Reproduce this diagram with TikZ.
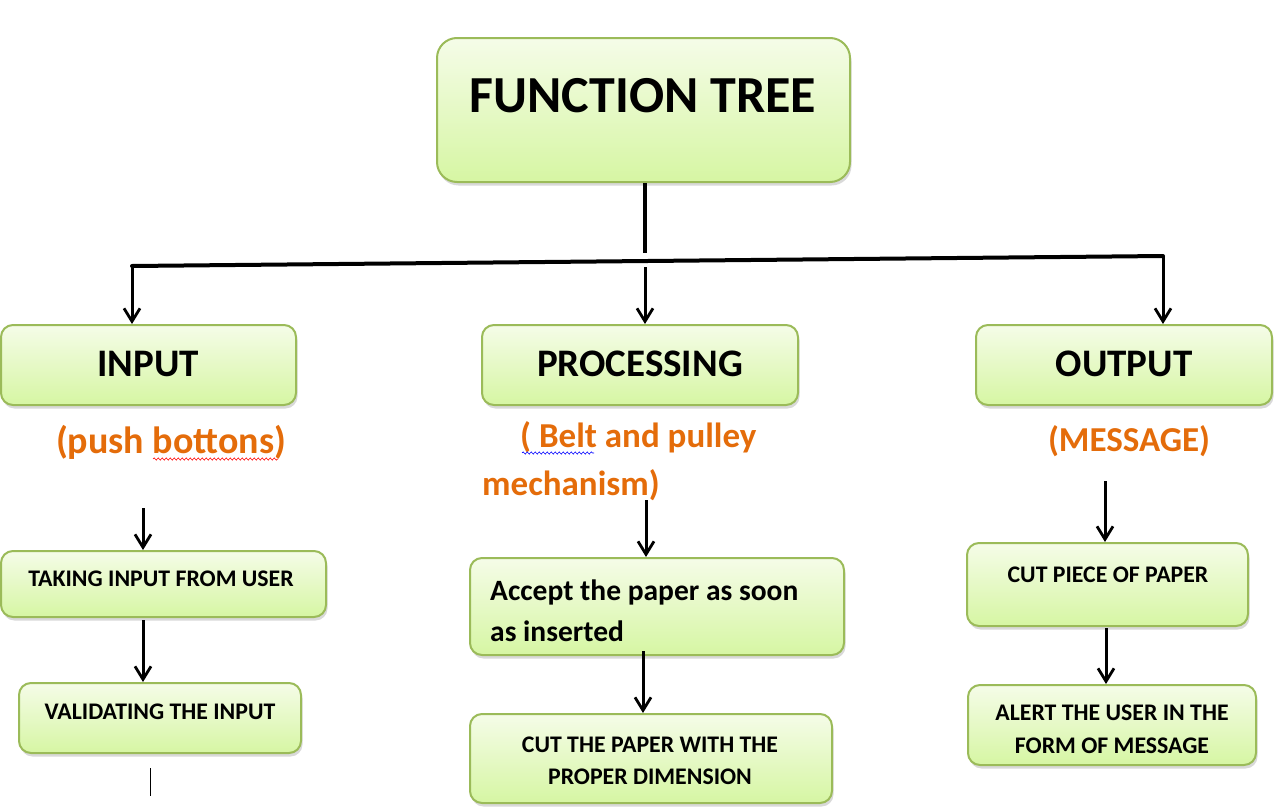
\documentclass[tikz,border=0pt]{standalone}
\usepackage{fontspec}
\setmainfont{Carlito}
\usetikzlibrary{arrows.meta,shadows,decorations.pathmorphing}
\definecolor{bord}{RGB}{155,187,89}
\definecolor{gtop}{RGB}{245,252,232}
\definecolor{gbot}{RGB}{214,246,163}
\definecolor{orng}{RGB}{228,108,10}
\tikzset{
  box/.style={draw=bord, line width=2pt, rounded corners=12pt, top color=gtop, bottom color=gbot,
    drop shadow={opacity=0.3, shadow xshift=1.5pt, shadow yshift=-3.5pt}, inner sep=0pt},
  bigtxt/.style={anchor=base, inner sep=0pt, font=\fontsize{52}{60}\selectfont\bfseries},
  midtxt/.style={anchor=base, inner sep=0pt, font=\fontsize{39}{46}\selectfont\bfseries},
  smtxt/.style={anchor=base, inner sep=0pt, font=\fontsize{23.8}{28}\selectfont\bfseries},
  acctxt/.style={anchor=base west, inner sep=0pt, font=\fontsize{29.5}{35}\selectfont\bfseries},
  ortxt/.style={anchor=base, inner sep=0pt, text=orng, font=\fontsize{35}{42}\selectfont\bfseries},
  trunk/.style={line width=4pt},
  arr/.style={line width=3pt, -{Straight Barb[length=13pt,width=16pt,line width=2.8pt]}},
  wavy/.style={line width=0.6pt, decorate, decoration={snake, amplitude=1.1pt, segment length=4pt}}
}
\begin{document}
\begin{tikzpicture}[x=1pt,y=-1pt]
\useasboundingbox (0,0) rectangle (1274,811);
% boxes
\node[box, rounded corners=20pt, minimum width=413pt, minimum height=144pt] (title) at (643.5,110) {};
\node[box, minimum width=295pt, minimum height=80pt] (input) at (148.5,365) {};
\node[box, minimum width=316pt, minimum height=80pt] (proc) at (640,365) {};
\node[box, minimum width=296pt, minimum height=80pt] (output) at (1124,365) {};
\node[box, minimum width=325pt, minimum height=66pt] (taking) at (163.5,584) {};
\node[box, minimum width=282pt, minimum height=70pt] (valid) at (160,718) {};
\node[box, minimum width=374pt, minimum height=97pt] (accept) at (657,606.5) {};
\node[box, minimum width=362pt, minimum height=89pt] (cutpaper) at (651,758.5) {};
\node[box, minimum width=281pt, minimum height=83pt] (cutpiece) at (1107.5,584.5) {};
\node[box, minimum width=288pt, minimum height=80pt] (alert) at (1112,725) {};
% texts
\node[bigtxt] (ttitle) at (643,112) {FUNCTION TREE};
\node[midtxt] (tinput) at (148,376) {INPUT};
\node[midtxt] (tproc) at (640,376) {PROCESSING};
\node[midtxt] (toutput) at (1124,376) {OUTPUT};
\node[ortxt, font=\fontsize{38}{44}\selectfont\bfseries] (lpush) at (171,453) {(push bottons)};
\node[ortxt, anchor=base west] (lbelt) at (520,447) {( Belt and pulley};
\node[ortxt, anchor=base west] (lmech) at (482,495) {mechanism)};
\node[ortxt] (lmsg) at (1129,451) {(MESSAGE)};
\node[smtxt] (ttaking) at (161,586) {TAKING INPUT FROM USER};
\node[smtxt] (tvalid) at (160,719) {VALIDATING THE INPUT};
\node[acctxt] (tacc1) at (490,600) {Accept the paper as soon};
\node[acctxt] (tacc2) at (490,641) {as inserted};
\node[smtxt] (tcut1) at (650,752) {CUT THE PAPER WITH THE};
\node[smtxt] (tcut2) at (650,784) {PROPER DIMENSION};
\node[smtxt] (tpiece) at (1108,582) {CUT PIECE OF PAPER};
\node[smtxt] (talert1) at (1112,720) {ALERT THE USER IN THE};
\node[smtxt] (talert2) at (1112,753) {FORM OF MESSAGE};
% spell-check marks
\draw[wavy, red] (153,459) -- (278,459);
\draw[wavy, blue] (522,453) -- (594,453);
% trunk connectors
\coordinate (tj) at (645,253);
\coordinate (hl) at (132,266);
\coordinate (hr) at (1163,256);
\coordinate (hm) at (645,267);
\draw[trunk] (title.south -| tj) -- (tj);
\draw[trunk, line cap=round] (hl) -- (hr);
\draw[arr] (hl) -- (hl |- input.north);
\draw[arr] (hm) -- (hm |- proc.north);
\draw[arr] (hr) -- (hr |- output.north);
% column arrows
\coordinate (a1) at (143,508);
\coordinate (a2) at (143,620);
\coordinate (a3) at (646,500);
\coordinate (a4) at (643,651);
\coordinate (a5) at (1105,481);
\coordinate (a6) at (1106,628);
\draw[arr] (a1) -- (a1 |- taking.north);
\draw[arr] (a2) -- (a2 |- valid.north);
\draw[arr] (a3) -- (a3 |- accept.north);
\draw[arr] (a4) -- (a4 |- cutpaper.north);
\draw[arr] (a5) -- (a5 |- cutpiece.north);
\draw[arr] (a6) -- (a6 |- alert.north);
% stray cursor mark
\draw[line width=0.9pt] (150,768) -- (150,796);
\end{tikzpicture}
\end{document}
